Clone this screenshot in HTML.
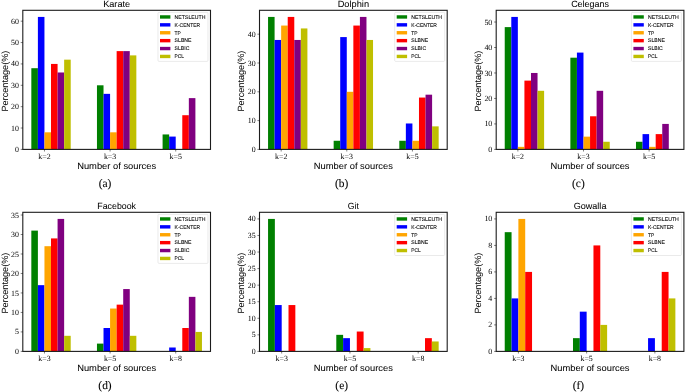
<!DOCTYPE html>
<html><head><meta charset="utf-8"><title>Figure</title>
<style>
html,body{margin:0;padding:0;background:#fff;}
body{width:685px;height:392px;overflow:hidden;font-family:"Liberation Sans",sans-serif;}
svg{display:block;}
</style></head><body>
<svg width="685" height="392" viewBox="0 0 685 392" shape-rendering="auto">
<defs><filter id="soft" x="0" y="0" width="685" height="392" filterUnits="userSpaceOnUse"><feGaussianBlur stdDeviation="0.35"/></filter></defs>
<rect x="0" y="0" width="685" height="392" fill="#fff"/>
<g filter="url(#soft)" text-rendering="geometricPrecision">
<rect x="0" y="0" width="685" height="392" fill="#fff"/>
<g>
<rect x="31.33" y="68.2" width="6.56" height="81.2" fill="#008000"/>
<rect x="37.89" y="16.92" width="6.56" height="132.48" fill="#0000ff"/>
<rect x="44.46" y="132.31" width="6.56" height="17.09" fill="#ffa500"/>
<rect x="51.02" y="63.93" width="6.56" height="85.47" fill="#ff0000"/>
<rect x="57.58" y="72.48" width="6.56" height="76.92" fill="#800080"/>
<rect x="64.15" y="59.66" width="6.56" height="89.74" fill="#bfbf00"/>
<rect x="96.96" y="85.3" width="6.56" height="64.1" fill="#008000"/>
<rect x="103.52" y="93.85" width="6.56" height="55.55" fill="#0000ff"/>
<rect x="110.09" y="132.31" width="6.56" height="17.09" fill="#ffa500"/>
<rect x="116.65" y="51.11" width="6.56" height="98.29" fill="#ff0000"/>
<rect x="123.21" y="51.11" width="6.56" height="98.29" fill="#800080"/>
<rect x="129.78" y="55.38" width="6.56" height="94.02" fill="#bfbf00"/>
<rect x="162.59" y="134.44" width="6.56" height="14.96" fill="#008000"/>
<rect x="169.15" y="136.58" width="6.56" height="12.82" fill="#0000ff"/>
<rect x="182.28" y="115.21" width="6.56" height="34.19" fill="#ff0000"/>
<rect x="188.84" y="98.12" width="6.56" height="51.28" fill="#800080"/>
<rect x="22.8" y="10.3" width="187.7" height="139.1" fill="none" stroke="#1c1c1c" stroke-width="1.1"/>
<line x1="20.7" y1="149.4" x2="22.8" y2="149.4" stroke="#000" stroke-width="0.5"/>
<text x="18.9" y="151.95" text-anchor="end" font-family="Liberation Serif, serif" font-size="7.9" fill="#000">0</text>
<line x1="20.7" y1="128.03" x2="22.8" y2="128.03" stroke="#000" stroke-width="0.5"/>
<text x="18.9" y="130.58" text-anchor="end" font-family="Liberation Serif, serif" font-size="7.9" fill="#000">10</text>
<line x1="20.7" y1="106.67" x2="22.8" y2="106.67" stroke="#000" stroke-width="0.5"/>
<text x="18.9" y="109.22" text-anchor="end" font-family="Liberation Serif, serif" font-size="7.9" fill="#000">20</text>
<line x1="20.7" y1="85.3" x2="22.8" y2="85.3" stroke="#000" stroke-width="0.5"/>
<text x="18.9" y="87.85" text-anchor="end" font-family="Liberation Serif, serif" font-size="7.9" fill="#000">30</text>
<line x1="20.7" y1="63.93" x2="22.8" y2="63.93" stroke="#000" stroke-width="0.5"/>
<text x="18.9" y="66.48" text-anchor="end" font-family="Liberation Serif, serif" font-size="7.9" fill="#000">40</text>
<line x1="20.7" y1="42.56" x2="22.8" y2="42.56" stroke="#000" stroke-width="0.5"/>
<text x="18.9" y="45.11" text-anchor="end" font-family="Liberation Serif, serif" font-size="7.9" fill="#000">50</text>
<line x1="20.7" y1="21.2" x2="22.8" y2="21.2" stroke="#000" stroke-width="0.5"/>
<text x="18.9" y="23.75" text-anchor="end" font-family="Liberation Serif, serif" font-size="7.9" fill="#000">60</text>
<line x1="44.46" y1="149.4" x2="44.46" y2="151.5" stroke="#000" stroke-width="0.5"/>
<text x="44.46" y="158.6" text-anchor="middle" font-family="Liberation Serif, serif" font-size="7.9" fill="#000">k=2</text>
<line x1="110.09" y1="149.4" x2="110.09" y2="151.5" stroke="#000" stroke-width="0.5"/>
<text x="110.09" y="158.6" text-anchor="middle" font-family="Liberation Serif, serif" font-size="7.9" fill="#000">k=3</text>
<line x1="175.72" y1="149.4" x2="175.72" y2="151.5" stroke="#000" stroke-width="0.5"/>
<text x="175.72" y="158.6" text-anchor="middle" font-family="Liberation Serif, serif" font-size="7.9" fill="#000">k=5</text>
<text x="116.65" y="7" text-anchor="middle" font-family="Liberation Sans, sans-serif" font-size="9.0" textLength="27" lengthAdjust="spacingAndGlyphs" fill="#000" stroke="#000" stroke-width="0.04">Karate</text>
<text x="116.65" y="168.5" text-anchor="middle" font-family="Liberation Sans, sans-serif" font-size="9.0" textLength="79" lengthAdjust="spacingAndGlyphs" fill="#000" stroke="#000" stroke-width="0.04">Number of sources</text>
<text transform="translate(7.5 81.1) rotate(-90)" text-anchor="middle" font-family="Liberation Sans, sans-serif" font-size="9.0" textLength="61" lengthAdjust="spacingAndGlyphs" fill="#000" stroke="#000" stroke-width="0.04">Percentage(%)</text>
<text x="105" y="186.9" text-anchor="middle" font-family="Liberation Serif, serif" font-size="11.4" fill="#000" stroke="#000" stroke-width="0.08">(a)</text>
<rect x="158" y="12.4" width="50" height="49" rx="1" ry="1" fill="#fff" fill-opacity="0.8" stroke="#dcdcdc" stroke-width="0.6"/>
<rect x="160" y="15.25" width="10.4" height="3.4" fill="#008000"/>
<text x="174.6" y="18.75" font-family="Liberation Sans, sans-serif" font-size="5.3" textLength="30.8" lengthAdjust="spacingAndGlyphs" fill="#000" stroke="#000" stroke-width="0.08">NETSLEUTH</text>
<rect x="160" y="23.15" width="10.4" height="3.4" fill="#0000ff"/>
<text x="174.6" y="26.65" font-family="Liberation Sans, sans-serif" font-size="5.3" textLength="25.6" lengthAdjust="spacingAndGlyphs" fill="#000" stroke="#000" stroke-width="0.08">K-CENTER</text>
<rect x="160" y="31.05" width="10.4" height="3.4" fill="#ffa500"/>
<text x="174.6" y="34.55" font-family="Liberation Sans, sans-serif" font-size="5.3" textLength="6.3" lengthAdjust="spacingAndGlyphs" fill="#000" stroke="#000" stroke-width="0.08">TP</text>
<rect x="160" y="38.95" width="10.4" height="3.4" fill="#ff0000"/>
<text x="174.6" y="42.45" font-family="Liberation Sans, sans-serif" font-size="5.3" textLength="16.9" lengthAdjust="spacingAndGlyphs" fill="#000" stroke="#000" stroke-width="0.08">SLBNE</text>
<rect x="160" y="46.85" width="10.4" height="3.4" fill="#800080"/>
<text x="174.6" y="50.35" font-family="Liberation Sans, sans-serif" font-size="5.3" textLength="14.8" lengthAdjust="spacingAndGlyphs" fill="#000" stroke="#000" stroke-width="0.08">SLBIC</text>
<rect x="160" y="54.75" width="10.4" height="3.4" fill="#bfbf00"/>
<text x="174.6" y="58.25" font-family="Liberation Sans, sans-serif" font-size="5.3" textLength="9.5" lengthAdjust="spacingAndGlyphs" fill="#000" stroke="#000" stroke-width="0.08">PCL</text>
</g>
<g>
<rect x="268.03" y="16.92" width="6.56" height="132.48" fill="#008000"/>
<rect x="274.59" y="39.96" width="6.56" height="109.44" fill="#0000ff"/>
<rect x="281.16" y="25.56" width="6.56" height="123.84" fill="#ffa500"/>
<rect x="287.72" y="16.92" width="6.56" height="132.48" fill="#ff0000"/>
<rect x="294.28" y="39.96" width="6.56" height="109.44" fill="#800080"/>
<rect x="300.85" y="28.44" width="6.56" height="120.96" fill="#bfbf00"/>
<rect x="333.66" y="140.76" width="6.56" height="8.64" fill="#008000"/>
<rect x="340.22" y="37.08" width="6.56" height="112.32" fill="#0000ff"/>
<rect x="346.79" y="91.8" width="6.56" height="57.6" fill="#ffa500"/>
<rect x="353.35" y="25.56" width="6.56" height="123.84" fill="#ff0000"/>
<rect x="359.91" y="16.92" width="6.56" height="132.48" fill="#800080"/>
<rect x="366.48" y="39.96" width="6.56" height="109.44" fill="#bfbf00"/>
<rect x="399.29" y="140.76" width="6.56" height="8.64" fill="#008000"/>
<rect x="405.85" y="123.48" width="6.56" height="25.92" fill="#0000ff"/>
<rect x="412.42" y="140.76" width="6.56" height="8.64" fill="#ffa500"/>
<rect x="418.98" y="97.56" width="6.56" height="51.84" fill="#ff0000"/>
<rect x="425.54" y="94.68" width="6.56" height="54.72" fill="#800080"/>
<rect x="432.11" y="126.36" width="6.56" height="23.04" fill="#bfbf00"/>
<rect x="259.5" y="10.3" width="187.7" height="139.1" fill="none" stroke="#1c1c1c" stroke-width="1.1"/>
<line x1="257.4" y1="149.4" x2="259.5" y2="149.4" stroke="#000" stroke-width="0.5"/>
<text x="255.6" y="151.95" text-anchor="end" font-family="Liberation Serif, serif" font-size="7.9" fill="#000">0</text>
<line x1="257.4" y1="120.6" x2="259.5" y2="120.6" stroke="#000" stroke-width="0.5"/>
<text x="255.6" y="123.15" text-anchor="end" font-family="Liberation Serif, serif" font-size="7.9" fill="#000">10</text>
<line x1="257.4" y1="91.8" x2="259.5" y2="91.8" stroke="#000" stroke-width="0.5"/>
<text x="255.6" y="94.35" text-anchor="end" font-family="Liberation Serif, serif" font-size="7.9" fill="#000">20</text>
<line x1="257.4" y1="63" x2="259.5" y2="63" stroke="#000" stroke-width="0.5"/>
<text x="255.6" y="65.55" text-anchor="end" font-family="Liberation Serif, serif" font-size="7.9" fill="#000">30</text>
<line x1="257.4" y1="34.2" x2="259.5" y2="34.2" stroke="#000" stroke-width="0.5"/>
<text x="255.6" y="36.75" text-anchor="end" font-family="Liberation Serif, serif" font-size="7.9" fill="#000">40</text>
<line x1="281.16" y1="149.4" x2="281.16" y2="151.5" stroke="#000" stroke-width="0.5"/>
<text x="281.16" y="158.6" text-anchor="middle" font-family="Liberation Serif, serif" font-size="7.9" fill="#000">k=2</text>
<line x1="346.79" y1="149.4" x2="346.79" y2="151.5" stroke="#000" stroke-width="0.5"/>
<text x="346.79" y="158.6" text-anchor="middle" font-family="Liberation Serif, serif" font-size="7.9" fill="#000">k=3</text>
<line x1="412.42" y1="149.4" x2="412.42" y2="151.5" stroke="#000" stroke-width="0.5"/>
<text x="412.42" y="158.6" text-anchor="middle" font-family="Liberation Serif, serif" font-size="7.9" fill="#000">k=5</text>
<text x="353.35" y="7" text-anchor="middle" font-family="Liberation Sans, sans-serif" font-size="9.0" textLength="31.4" lengthAdjust="spacingAndGlyphs" fill="#000" stroke="#000" stroke-width="0.04">Dolphin</text>
<text x="353.35" y="168.5" text-anchor="middle" font-family="Liberation Sans, sans-serif" font-size="9.0" textLength="79" lengthAdjust="spacingAndGlyphs" fill="#000" stroke="#000" stroke-width="0.04">Number of sources</text>
<text transform="translate(244.2 81.1) rotate(-90)" text-anchor="middle" font-family="Liberation Sans, sans-serif" font-size="9.0" textLength="61" lengthAdjust="spacingAndGlyphs" fill="#000" stroke="#000" stroke-width="0.04">Percentage(%)</text>
<text x="341.7" y="186.9" text-anchor="middle" font-family="Liberation Serif, serif" font-size="11.4" fill="#000" stroke="#000" stroke-width="0.08">(b)</text>
<rect x="394.7" y="12.4" width="50" height="49" rx="1" ry="1" fill="#fff" fill-opacity="0.8" stroke="#dcdcdc" stroke-width="0.6"/>
<rect x="396.7" y="15.25" width="10.4" height="3.4" fill="#008000"/>
<text x="411.3" y="18.75" font-family="Liberation Sans, sans-serif" font-size="5.3" textLength="30.8" lengthAdjust="spacingAndGlyphs" fill="#000" stroke="#000" stroke-width="0.08">NETSLEUTH</text>
<rect x="396.7" y="23.15" width="10.4" height="3.4" fill="#0000ff"/>
<text x="411.3" y="26.65" font-family="Liberation Sans, sans-serif" font-size="5.3" textLength="25.6" lengthAdjust="spacingAndGlyphs" fill="#000" stroke="#000" stroke-width="0.08">K-CENTER</text>
<rect x="396.7" y="31.05" width="10.4" height="3.4" fill="#ffa500"/>
<text x="411.3" y="34.55" font-family="Liberation Sans, sans-serif" font-size="5.3" textLength="6.3" lengthAdjust="spacingAndGlyphs" fill="#000" stroke="#000" stroke-width="0.08">TP</text>
<rect x="396.7" y="38.95" width="10.4" height="3.4" fill="#ff0000"/>
<text x="411.3" y="42.45" font-family="Liberation Sans, sans-serif" font-size="5.3" textLength="16.9" lengthAdjust="spacingAndGlyphs" fill="#000" stroke="#000" stroke-width="0.08">SLBNE</text>
<rect x="396.7" y="46.85" width="10.4" height="3.4" fill="#800080"/>
<text x="411.3" y="50.35" font-family="Liberation Sans, sans-serif" font-size="5.3" textLength="14.8" lengthAdjust="spacingAndGlyphs" fill="#000" stroke="#000" stroke-width="0.08">SLBIC</text>
<rect x="396.7" y="54.75" width="10.4" height="3.4" fill="#bfbf00"/>
<text x="411.3" y="58.25" font-family="Liberation Sans, sans-serif" font-size="5.3" textLength="9.5" lengthAdjust="spacingAndGlyphs" fill="#000" stroke="#000" stroke-width="0.08">PCL</text>
</g>
<g>
<rect x="504.73" y="27.11" width="6.56" height="122.29" fill="#008000"/>
<rect x="511.29" y="16.92" width="6.56" height="132.48" fill="#0000ff"/>
<rect x="517.86" y="146.85" width="6.56" height="2.55" fill="#ffa500"/>
<rect x="524.42" y="80.61" width="6.56" height="68.79" fill="#ff0000"/>
<rect x="530.98" y="72.97" width="6.56" height="76.43" fill="#800080"/>
<rect x="537.55" y="90.8" width="6.56" height="58.6" fill="#bfbf00"/>
<rect x="570.36" y="57.69" width="6.56" height="91.71" fill="#008000"/>
<rect x="576.92" y="52.59" width="6.56" height="96.81" fill="#0000ff"/>
<rect x="583.49" y="136.66" width="6.56" height="12.74" fill="#ffa500"/>
<rect x="590.05" y="116.28" width="6.56" height="33.12" fill="#ff0000"/>
<rect x="596.61" y="90.8" width="6.56" height="58.6" fill="#800080"/>
<rect x="603.18" y="141.76" width="6.56" height="7.64" fill="#bfbf00"/>
<rect x="635.99" y="141.76" width="6.56" height="7.64" fill="#008000"/>
<rect x="642.55" y="134.11" width="6.56" height="15.29" fill="#0000ff"/>
<rect x="649.12" y="146.85" width="6.56" height="2.55" fill="#ffa500"/>
<rect x="655.68" y="134.11" width="6.56" height="15.29" fill="#ff0000"/>
<rect x="662.24" y="123.92" width="6.56" height="25.48" fill="#800080"/>
<rect x="496.2" y="10.3" width="187.7" height="139.1" fill="none" stroke="#1c1c1c" stroke-width="1.1"/>
<line x1="494.1" y1="149.4" x2="496.2" y2="149.4" stroke="#000" stroke-width="0.5"/>
<text x="492.3" y="151.95" text-anchor="end" font-family="Liberation Serif, serif" font-size="7.9" fill="#000">0</text>
<line x1="494.1" y1="123.92" x2="496.2" y2="123.92" stroke="#000" stroke-width="0.5"/>
<text x="492.3" y="126.47" text-anchor="end" font-family="Liberation Serif, serif" font-size="7.9" fill="#000">10</text>
<line x1="494.1" y1="98.45" x2="496.2" y2="98.45" stroke="#000" stroke-width="0.5"/>
<text x="492.3" y="101" text-anchor="end" font-family="Liberation Serif, serif" font-size="7.9" fill="#000">20</text>
<line x1="494.1" y1="72.97" x2="496.2" y2="72.97" stroke="#000" stroke-width="0.5"/>
<text x="492.3" y="75.52" text-anchor="end" font-family="Liberation Serif, serif" font-size="7.9" fill="#000">30</text>
<line x1="494.1" y1="47.5" x2="496.2" y2="47.5" stroke="#000" stroke-width="0.5"/>
<text x="492.3" y="50.05" text-anchor="end" font-family="Liberation Serif, serif" font-size="7.9" fill="#000">40</text>
<line x1="494.1" y1="22.02" x2="496.2" y2="22.02" stroke="#000" stroke-width="0.5"/>
<text x="492.3" y="24.57" text-anchor="end" font-family="Liberation Serif, serif" font-size="7.9" fill="#000">50</text>
<line x1="517.86" y1="149.4" x2="517.86" y2="151.5" stroke="#000" stroke-width="0.5"/>
<text x="517.86" y="158.6" text-anchor="middle" font-family="Liberation Serif, serif" font-size="7.9" fill="#000">k=2</text>
<line x1="583.49" y1="149.4" x2="583.49" y2="151.5" stroke="#000" stroke-width="0.5"/>
<text x="583.49" y="158.6" text-anchor="middle" font-family="Liberation Serif, serif" font-size="7.9" fill="#000">k=3</text>
<line x1="649.12" y1="149.4" x2="649.12" y2="151.5" stroke="#000" stroke-width="0.5"/>
<text x="649.12" y="158.6" text-anchor="middle" font-family="Liberation Serif, serif" font-size="7.9" fill="#000">k=5</text>
<text x="590.05" y="7" text-anchor="middle" font-family="Liberation Sans, sans-serif" font-size="9.0" textLength="37.8" lengthAdjust="spacingAndGlyphs" fill="#000" stroke="#000" stroke-width="0.04">Celegans</text>
<text x="590.05" y="168.5" text-anchor="middle" font-family="Liberation Sans, sans-serif" font-size="9.0" textLength="79" lengthAdjust="spacingAndGlyphs" fill="#000" stroke="#000" stroke-width="0.04">Number of sources</text>
<text transform="translate(480.9 81.1) rotate(-90)" text-anchor="middle" font-family="Liberation Sans, sans-serif" font-size="9.0" textLength="61" lengthAdjust="spacingAndGlyphs" fill="#000" stroke="#000" stroke-width="0.04">Percentage(%)</text>
<text x="578.4" y="186.9" text-anchor="middle" font-family="Liberation Serif, serif" font-size="11.4" fill="#000" stroke="#000" stroke-width="0.08">(c)</text>
<rect x="631.4" y="12.4" width="50" height="49" rx="1" ry="1" fill="#fff" fill-opacity="0.8" stroke="#dcdcdc" stroke-width="0.6"/>
<rect x="633.4" y="15.25" width="10.4" height="3.4" fill="#008000"/>
<text x="648" y="18.75" font-family="Liberation Sans, sans-serif" font-size="5.3" textLength="30.8" lengthAdjust="spacingAndGlyphs" fill="#000" stroke="#000" stroke-width="0.08">NETSLEUTH</text>
<rect x="633.4" y="23.15" width="10.4" height="3.4" fill="#0000ff"/>
<text x="648" y="26.65" font-family="Liberation Sans, sans-serif" font-size="5.3" textLength="25.6" lengthAdjust="spacingAndGlyphs" fill="#000" stroke="#000" stroke-width="0.08">K-CENTER</text>
<rect x="633.4" y="31.05" width="10.4" height="3.4" fill="#ffa500"/>
<text x="648" y="34.55" font-family="Liberation Sans, sans-serif" font-size="5.3" textLength="6.3" lengthAdjust="spacingAndGlyphs" fill="#000" stroke="#000" stroke-width="0.08">TP</text>
<rect x="633.4" y="38.95" width="10.4" height="3.4" fill="#ff0000"/>
<text x="648" y="42.45" font-family="Liberation Sans, sans-serif" font-size="5.3" textLength="16.9" lengthAdjust="spacingAndGlyphs" fill="#000" stroke="#000" stroke-width="0.08">SLBNE</text>
<rect x="633.4" y="46.85" width="10.4" height="3.4" fill="#800080"/>
<text x="648" y="50.35" font-family="Liberation Sans, sans-serif" font-size="5.3" textLength="14.8" lengthAdjust="spacingAndGlyphs" fill="#000" stroke="#000" stroke-width="0.08">SLBIC</text>
<rect x="633.4" y="54.75" width="10.4" height="3.4" fill="#bfbf00"/>
<text x="648" y="58.25" font-family="Liberation Sans, sans-serif" font-size="5.3" textLength="9.5" lengthAdjust="spacingAndGlyphs" fill="#000" stroke="#000" stroke-width="0.08">PCL</text>
</g>
<g>
<rect x="31.33" y="230.61" width="6.56" height="120.79" fill="#008000"/>
<rect x="37.89" y="285.16" width="6.56" height="66.24" fill="#0000ff"/>
<rect x="44.46" y="246.2" width="6.56" height="105.2" fill="#ffa500"/>
<rect x="51.02" y="238.41" width="6.56" height="112.99" fill="#ff0000"/>
<rect x="57.58" y="218.92" width="6.56" height="132.48" fill="#800080"/>
<rect x="64.15" y="335.81" width="6.56" height="15.59" fill="#bfbf00"/>
<rect x="96.96" y="343.61" width="6.56" height="7.79" fill="#008000"/>
<rect x="103.52" y="328.02" width="6.56" height="23.38" fill="#0000ff"/>
<rect x="110.09" y="308.54" width="6.56" height="42.86" fill="#ffa500"/>
<rect x="116.65" y="304.64" width="6.56" height="46.76" fill="#ff0000"/>
<rect x="123.21" y="289.06" width="6.56" height="62.34" fill="#800080"/>
<rect x="129.78" y="335.81" width="6.56" height="15.59" fill="#bfbf00"/>
<rect x="169.15" y="347.5" width="6.56" height="3.9" fill="#0000ff"/>
<rect x="182.28" y="328.02" width="6.56" height="23.38" fill="#ff0000"/>
<rect x="188.84" y="296.85" width="6.56" height="54.55" fill="#800080"/>
<rect x="195.41" y="331.92" width="6.56" height="19.48" fill="#bfbf00"/>
<rect x="22.8" y="212.3" width="187.7" height="139.1" fill="none" stroke="#1c1c1c" stroke-width="1.1"/>
<line x1="20.7" y1="351.4" x2="22.8" y2="351.4" stroke="#000" stroke-width="0.5"/>
<text x="18.9" y="353.95" text-anchor="end" font-family="Liberation Serif, serif" font-size="7.9" fill="#000">0</text>
<line x1="20.7" y1="331.92" x2="22.8" y2="331.92" stroke="#000" stroke-width="0.5"/>
<text x="18.9" y="334.47" text-anchor="end" font-family="Liberation Serif, serif" font-size="7.9" fill="#000">5</text>
<line x1="20.7" y1="312.44" x2="22.8" y2="312.44" stroke="#000" stroke-width="0.5"/>
<text x="18.9" y="314.99" text-anchor="end" font-family="Liberation Serif, serif" font-size="7.9" fill="#000">10</text>
<line x1="20.7" y1="292.95" x2="22.8" y2="292.95" stroke="#000" stroke-width="0.5"/>
<text x="18.9" y="295.5" text-anchor="end" font-family="Liberation Serif, serif" font-size="7.9" fill="#000">15</text>
<line x1="20.7" y1="273.47" x2="22.8" y2="273.47" stroke="#000" stroke-width="0.5"/>
<text x="18.9" y="276.02" text-anchor="end" font-family="Liberation Serif, serif" font-size="7.9" fill="#000">20</text>
<line x1="20.7" y1="253.99" x2="22.8" y2="253.99" stroke="#000" stroke-width="0.5"/>
<text x="18.9" y="256.54" text-anchor="end" font-family="Liberation Serif, serif" font-size="7.9" fill="#000">25</text>
<line x1="20.7" y1="234.51" x2="22.8" y2="234.51" stroke="#000" stroke-width="0.5"/>
<text x="18.9" y="237.06" text-anchor="end" font-family="Liberation Serif, serif" font-size="7.9" fill="#000">30</text>
<line x1="20.7" y1="215.03" x2="22.8" y2="215.03" stroke="#000" stroke-width="0.5"/>
<text x="18.9" y="217.58" text-anchor="end" font-family="Liberation Serif, serif" font-size="7.9" fill="#000">35</text>
<line x1="44.46" y1="351.4" x2="44.46" y2="353.5" stroke="#000" stroke-width="0.5"/>
<text x="44.46" y="360.6" text-anchor="middle" font-family="Liberation Serif, serif" font-size="7.9" fill="#000">k=3</text>
<line x1="110.09" y1="351.4" x2="110.09" y2="353.5" stroke="#000" stroke-width="0.5"/>
<text x="110.09" y="360.6" text-anchor="middle" font-family="Liberation Serif, serif" font-size="7.9" fill="#000">k=5</text>
<line x1="175.72" y1="351.4" x2="175.72" y2="353.5" stroke="#000" stroke-width="0.5"/>
<text x="175.72" y="360.6" text-anchor="middle" font-family="Liberation Serif, serif" font-size="7.9" fill="#000">k=8</text>
<text x="116.65" y="209" text-anchor="middle" font-family="Liberation Sans, sans-serif" font-size="9.0" textLength="38.6" lengthAdjust="spacingAndGlyphs" fill="#000" stroke="#000" stroke-width="0.04">Facebook</text>
<text x="116.65" y="370.5" text-anchor="middle" font-family="Liberation Sans, sans-serif" font-size="9.0" textLength="79" lengthAdjust="spacingAndGlyphs" fill="#000" stroke="#000" stroke-width="0.04">Number of sources</text>
<text transform="translate(7.5 283.1) rotate(-90)" text-anchor="middle" font-family="Liberation Sans, sans-serif" font-size="9.0" textLength="61" lengthAdjust="spacingAndGlyphs" fill="#000" stroke="#000" stroke-width="0.04">Percentage(%)</text>
<text x="105" y="388.9" text-anchor="middle" font-family="Liberation Serif, serif" font-size="11.4" fill="#000" stroke="#000" stroke-width="0.08">(d)</text>
<rect x="158" y="214.4" width="50" height="49" rx="1" ry="1" fill="#fff" fill-opacity="0.8" stroke="#dcdcdc" stroke-width="0.6"/>
<rect x="160" y="217.25" width="10.4" height="3.4" fill="#008000"/>
<text x="174.6" y="220.75" font-family="Liberation Sans, sans-serif" font-size="5.3" textLength="30.8" lengthAdjust="spacingAndGlyphs" fill="#000" stroke="#000" stroke-width="0.08">NETSLEUTH</text>
<rect x="160" y="225.15" width="10.4" height="3.4" fill="#0000ff"/>
<text x="174.6" y="228.65" font-family="Liberation Sans, sans-serif" font-size="5.3" textLength="25.6" lengthAdjust="spacingAndGlyphs" fill="#000" stroke="#000" stroke-width="0.08">K-CENTER</text>
<rect x="160" y="233.05" width="10.4" height="3.4" fill="#ffa500"/>
<text x="174.6" y="236.55" font-family="Liberation Sans, sans-serif" font-size="5.3" textLength="6.3" lengthAdjust="spacingAndGlyphs" fill="#000" stroke="#000" stroke-width="0.08">TP</text>
<rect x="160" y="240.95" width="10.4" height="3.4" fill="#ff0000"/>
<text x="174.6" y="244.45" font-family="Liberation Sans, sans-serif" font-size="5.3" textLength="16.9" lengthAdjust="spacingAndGlyphs" fill="#000" stroke="#000" stroke-width="0.08">SLBNE</text>
<rect x="160" y="248.85" width="10.4" height="3.4" fill="#800080"/>
<text x="174.6" y="252.35" font-family="Liberation Sans, sans-serif" font-size="5.3" textLength="14.8" lengthAdjust="spacingAndGlyphs" fill="#000" stroke="#000" stroke-width="0.08">SLBIC</text>
<rect x="160" y="256.75" width="10.4" height="3.4" fill="#bfbf00"/>
<text x="174.6" y="260.25" font-family="Liberation Sans, sans-serif" font-size="5.3" textLength="9.5" lengthAdjust="spacingAndGlyphs" fill="#000" stroke="#000" stroke-width="0.08">PCL</text>
</g>
<g>
<rect x="268.03" y="218.92" width="6.83" height="132.48" fill="#008000"/>
<rect x="274.86" y="305.03" width="6.83" height="46.37" fill="#0000ff"/>
<rect x="288.51" y="305.03" width="6.83" height="46.37" fill="#ff0000"/>
<rect x="336.29" y="334.84" width="6.83" height="16.56" fill="#008000"/>
<rect x="343.11" y="338.15" width="6.83" height="13.25" fill="#0000ff"/>
<rect x="356.76" y="331.53" width="6.83" height="19.87" fill="#ff0000"/>
<rect x="363.59" y="348.09" width="6.83" height="3.31" fill="#bfbf00"/>
<rect x="425.02" y="338.15" width="6.83" height="13.25" fill="#ff0000"/>
<rect x="431.84" y="341.46" width="6.83" height="9.94" fill="#bfbf00"/>
<rect x="259.5" y="212.3" width="187.7" height="139.1" fill="none" stroke="#1c1c1c" stroke-width="1.1"/>
<line x1="257.4" y1="351.4" x2="259.5" y2="351.4" stroke="#000" stroke-width="0.5"/>
<text x="255.6" y="353.95" text-anchor="end" font-family="Liberation Serif, serif" font-size="7.9" fill="#000">0</text>
<line x1="257.4" y1="334.84" x2="259.5" y2="334.84" stroke="#000" stroke-width="0.5"/>
<text x="255.6" y="337.39" text-anchor="end" font-family="Liberation Serif, serif" font-size="7.9" fill="#000">5</text>
<line x1="257.4" y1="318.28" x2="259.5" y2="318.28" stroke="#000" stroke-width="0.5"/>
<text x="255.6" y="320.83" text-anchor="end" font-family="Liberation Serif, serif" font-size="7.9" fill="#000">10</text>
<line x1="257.4" y1="301.72" x2="259.5" y2="301.72" stroke="#000" stroke-width="0.5"/>
<text x="255.6" y="304.27" text-anchor="end" font-family="Liberation Serif, serif" font-size="7.9" fill="#000">15</text>
<line x1="257.4" y1="285.16" x2="259.5" y2="285.16" stroke="#000" stroke-width="0.5"/>
<text x="255.6" y="287.71" text-anchor="end" font-family="Liberation Serif, serif" font-size="7.9" fill="#000">20</text>
<line x1="257.4" y1="268.6" x2="259.5" y2="268.6" stroke="#000" stroke-width="0.5"/>
<text x="255.6" y="271.15" text-anchor="end" font-family="Liberation Serif, serif" font-size="7.9" fill="#000">25</text>
<line x1="257.4" y1="252.04" x2="259.5" y2="252.04" stroke="#000" stroke-width="0.5"/>
<text x="255.6" y="254.59" text-anchor="end" font-family="Liberation Serif, serif" font-size="7.9" fill="#000">30</text>
<line x1="257.4" y1="235.48" x2="259.5" y2="235.48" stroke="#000" stroke-width="0.5"/>
<text x="255.6" y="238.03" text-anchor="end" font-family="Liberation Serif, serif" font-size="7.9" fill="#000">35</text>
<line x1="257.4" y1="218.92" x2="259.5" y2="218.92" stroke="#000" stroke-width="0.5"/>
<text x="255.6" y="221.47" text-anchor="end" font-family="Liberation Serif, serif" font-size="7.9" fill="#000">40</text>
<line x1="281.68" y1="351.4" x2="281.68" y2="353.5" stroke="#000" stroke-width="0.5"/>
<text x="281.68" y="360.6" text-anchor="middle" font-family="Liberation Serif, serif" font-size="7.9" fill="#000">k=3</text>
<line x1="349.94" y1="351.4" x2="349.94" y2="353.5" stroke="#000" stroke-width="0.5"/>
<text x="349.94" y="360.6" text-anchor="middle" font-family="Liberation Serif, serif" font-size="7.9" fill="#000">k=5</text>
<line x1="418.19" y1="351.4" x2="418.19" y2="353.5" stroke="#000" stroke-width="0.5"/>
<text x="418.19" y="360.6" text-anchor="middle" font-family="Liberation Serif, serif" font-size="7.9" fill="#000">k=8</text>
<text x="353.35" y="209" text-anchor="middle" font-family="Liberation Sans, sans-serif" font-size="9.0" textLength="11" lengthAdjust="spacingAndGlyphs" fill="#000" stroke="#000" stroke-width="0.04">Git</text>
<text x="353.35" y="370.5" text-anchor="middle" font-family="Liberation Sans, sans-serif" font-size="9.0" textLength="79" lengthAdjust="spacingAndGlyphs" fill="#000" stroke="#000" stroke-width="0.04">Number of sources</text>
<text transform="translate(244.2 283.1) rotate(-90)" text-anchor="middle" font-family="Liberation Sans, sans-serif" font-size="9.0" textLength="61" lengthAdjust="spacingAndGlyphs" fill="#000" stroke="#000" stroke-width="0.04">Percentage(%)</text>
<text x="341.7" y="388.9" text-anchor="middle" font-family="Liberation Serif, serif" font-size="11.4" fill="#000" stroke="#000" stroke-width="0.08">(e)</text>
<rect x="394.7" y="214.4" width="50" height="41.1" rx="1" ry="1" fill="#fff" fill-opacity="0.8" stroke="#dcdcdc" stroke-width="0.6"/>
<rect x="396.7" y="217.25" width="10.4" height="3.4" fill="#008000"/>
<text x="411.3" y="220.75" font-family="Liberation Sans, sans-serif" font-size="5.3" textLength="30.8" lengthAdjust="spacingAndGlyphs" fill="#000" stroke="#000" stroke-width="0.08">NETSLEUTH</text>
<rect x="396.7" y="225.15" width="10.4" height="3.4" fill="#0000ff"/>
<text x="411.3" y="228.65" font-family="Liberation Sans, sans-serif" font-size="5.3" textLength="25.6" lengthAdjust="spacingAndGlyphs" fill="#000" stroke="#000" stroke-width="0.08">K-CENTER</text>
<rect x="396.7" y="233.05" width="10.4" height="3.4" fill="#ffa500"/>
<text x="411.3" y="236.55" font-family="Liberation Sans, sans-serif" font-size="5.3" textLength="6.3" lengthAdjust="spacingAndGlyphs" fill="#000" stroke="#000" stroke-width="0.08">TP</text>
<rect x="396.7" y="240.95" width="10.4" height="3.4" fill="#ff0000"/>
<text x="411.3" y="244.45" font-family="Liberation Sans, sans-serif" font-size="5.3" textLength="16.9" lengthAdjust="spacingAndGlyphs" fill="#000" stroke="#000" stroke-width="0.08">SLBNE</text>
<rect x="396.7" y="248.85" width="10.4" height="3.4" fill="#bfbf00"/>
<text x="411.3" y="252.35" font-family="Liberation Sans, sans-serif" font-size="5.3" textLength="9.5" lengthAdjust="spacingAndGlyphs" fill="#000" stroke="#000" stroke-width="0.08">PCL</text>
</g>
<g>
<rect x="504.73" y="232.17" width="6.83" height="119.23" fill="#008000"/>
<rect x="511.56" y="298.41" width="6.83" height="52.99" fill="#0000ff"/>
<rect x="518.38" y="218.92" width="6.83" height="132.48" fill="#ffa500"/>
<rect x="525.21" y="271.91" width="6.83" height="79.49" fill="#ff0000"/>
<rect x="572.99" y="338.15" width="6.83" height="13.25" fill="#008000"/>
<rect x="579.81" y="311.66" width="6.83" height="39.74" fill="#0000ff"/>
<rect x="593.46" y="245.42" width="6.83" height="105.98" fill="#ff0000"/>
<rect x="600.29" y="324.9" width="6.83" height="26.5" fill="#bfbf00"/>
<rect x="648.07" y="338.15" width="6.83" height="13.25" fill="#0000ff"/>
<rect x="661.72" y="271.91" width="6.83" height="79.49" fill="#ff0000"/>
<rect x="668.54" y="298.41" width="6.83" height="52.99" fill="#bfbf00"/>
<rect x="496.2" y="212.3" width="187.7" height="139.1" fill="none" stroke="#1c1c1c" stroke-width="1.1"/>
<line x1="494.1" y1="351.4" x2="496.2" y2="351.4" stroke="#000" stroke-width="0.5"/>
<text x="492.3" y="353.95" text-anchor="end" font-family="Liberation Serif, serif" font-size="7.9" fill="#000">0</text>
<line x1="494.1" y1="324.9" x2="496.2" y2="324.9" stroke="#000" stroke-width="0.5"/>
<text x="492.3" y="327.45" text-anchor="end" font-family="Liberation Serif, serif" font-size="7.9" fill="#000">2</text>
<line x1="494.1" y1="298.41" x2="496.2" y2="298.41" stroke="#000" stroke-width="0.5"/>
<text x="492.3" y="300.96" text-anchor="end" font-family="Liberation Serif, serif" font-size="7.9" fill="#000">4</text>
<line x1="494.1" y1="271.91" x2="496.2" y2="271.91" stroke="#000" stroke-width="0.5"/>
<text x="492.3" y="274.46" text-anchor="end" font-family="Liberation Serif, serif" font-size="7.9" fill="#000">6</text>
<line x1="494.1" y1="245.42" x2="496.2" y2="245.42" stroke="#000" stroke-width="0.5"/>
<text x="492.3" y="247.97" text-anchor="end" font-family="Liberation Serif, serif" font-size="7.9" fill="#000">8</text>
<line x1="494.1" y1="218.92" x2="496.2" y2="218.92" stroke="#000" stroke-width="0.5"/>
<text x="492.3" y="221.47" text-anchor="end" font-family="Liberation Serif, serif" font-size="7.9" fill="#000">10</text>
<line x1="518.38" y1="351.4" x2="518.38" y2="353.5" stroke="#000" stroke-width="0.5"/>
<text x="518.38" y="360.6" text-anchor="middle" font-family="Liberation Serif, serif" font-size="7.9" fill="#000">k=3</text>
<line x1="586.64" y1="351.4" x2="586.64" y2="353.5" stroke="#000" stroke-width="0.5"/>
<text x="586.64" y="360.6" text-anchor="middle" font-family="Liberation Serif, serif" font-size="7.9" fill="#000">k=5</text>
<line x1="654.89" y1="351.4" x2="654.89" y2="353.5" stroke="#000" stroke-width="0.5"/>
<text x="654.89" y="360.6" text-anchor="middle" font-family="Liberation Serif, serif" font-size="7.9" fill="#000">k=8</text>
<text x="590.05" y="209" text-anchor="middle" font-family="Liberation Sans, sans-serif" font-size="9.0" textLength="32.8" lengthAdjust="spacingAndGlyphs" fill="#000" stroke="#000" stroke-width="0.04">Gowalla</text>
<text x="590.05" y="370.5" text-anchor="middle" font-family="Liberation Sans, sans-serif" font-size="9.0" textLength="79" lengthAdjust="spacingAndGlyphs" fill="#000" stroke="#000" stroke-width="0.04">Number of sources</text>
<text transform="translate(480.9 283.1) rotate(-90)" text-anchor="middle" font-family="Liberation Sans, sans-serif" font-size="9.0" textLength="61" lengthAdjust="spacingAndGlyphs" fill="#000" stroke="#000" stroke-width="0.04">Percentage(%)</text>
<text x="578.4" y="388.9" text-anchor="middle" font-family="Liberation Serif, serif" font-size="11.4" fill="#000" stroke="#000" stroke-width="0.08">(f)</text>
<rect x="631.4" y="214.4" width="50" height="41.1" rx="1" ry="1" fill="#fff" fill-opacity="0.8" stroke="#dcdcdc" stroke-width="0.6"/>
<rect x="633.4" y="217.25" width="10.4" height="3.4" fill="#008000"/>
<text x="648" y="220.75" font-family="Liberation Sans, sans-serif" font-size="5.3" textLength="30.8" lengthAdjust="spacingAndGlyphs" fill="#000" stroke="#000" stroke-width="0.08">NETSLEUTH</text>
<rect x="633.4" y="225.15" width="10.4" height="3.4" fill="#0000ff"/>
<text x="648" y="228.65" font-family="Liberation Sans, sans-serif" font-size="5.3" textLength="25.6" lengthAdjust="spacingAndGlyphs" fill="#000" stroke="#000" stroke-width="0.08">K-CENTER</text>
<rect x="633.4" y="233.05" width="10.4" height="3.4" fill="#ffa500"/>
<text x="648" y="236.55" font-family="Liberation Sans, sans-serif" font-size="5.3" textLength="6.3" lengthAdjust="spacingAndGlyphs" fill="#000" stroke="#000" stroke-width="0.08">TP</text>
<rect x="633.4" y="240.95" width="10.4" height="3.4" fill="#ff0000"/>
<text x="648" y="244.45" font-family="Liberation Sans, sans-serif" font-size="5.3" textLength="16.9" lengthAdjust="spacingAndGlyphs" fill="#000" stroke="#000" stroke-width="0.08">SLBNE</text>
<rect x="633.4" y="248.85" width="10.4" height="3.4" fill="#bfbf00"/>
<text x="648" y="252.35" font-family="Liberation Sans, sans-serif" font-size="5.3" textLength="9.5" lengthAdjust="spacingAndGlyphs" fill="#000" stroke="#000" stroke-width="0.08">PCL</text>
</g>
</g>
</svg>
</body></html>
